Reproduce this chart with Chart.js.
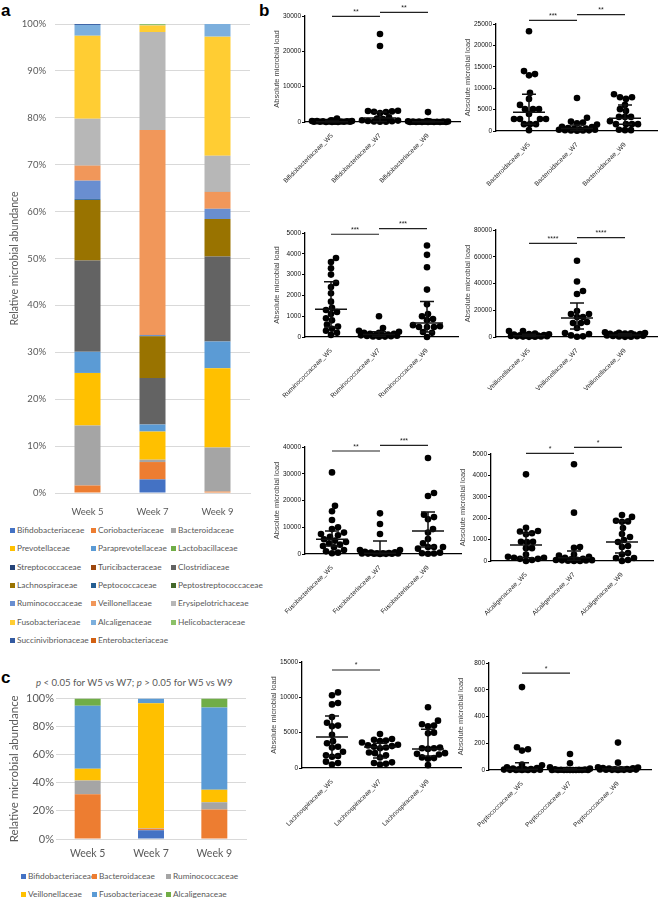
<!DOCTYPE html>
<html><head><meta charset="utf-8">
<script src="https://cdn.jsdelivr.net/npm/chart.js@4.4.1/dist/chart.umd.min.js"></script>
<style>
body{margin:0;width:658px;height:898px;background:#fff;position:relative;overflow:hidden;font-family:Lato,sans-serif;}
canvas{position:absolute;}
.lbl{position:absolute;font:bold 17px "Liberation Sans",Arial,sans-serif;color:#000;line-height:17px;}
.leg{position:absolute;font:8.3px Lato,sans-serif;color:#595959;white-space:nowrap;line-height:10px;}
.leg i{display:inline-block;width:5px;height:5px;margin-right:2px;vertical-align:0px;}
.sub{position:absolute;font:9.6px Lato,sans-serif;color:#595959;white-space:nowrap;}
</style></head><body>
<div class="lbl" style="left:1px;top:2px">a</div>
<div class="lbl" style="left:259px;top:2px">b</div>
<div class="lbl" style="left:1px;top:669px">c</div>
<div class="sub" style="left:36px;top:677px"><i>p</i> &lt; 0.05 for W5 vs W7; <i>p</i> &gt; 0.05 for W5 vs W9</div>
<script>
// ---------- DATA ----------
const weekLabels = ['Week 5','Week 7','Week 9'];

const panelAFamilies = ['Bifidobacteriaceae','Coriobacteriaceae','Bacteroidaceae','Prevotellaceae','Paraprevotellaceae','Lactobacillaceae','Streptococcaceae','Turicibacteraceae','Clostridiaceae','Lachnospiraceae','Peptococcaceae','Peptostreptococcaceae','Ruminococcaceae','Veillonellaceae','Erysipelotrichaceae','Fusobacteriaceae','Alcaligenaceae','Helicobacteraceae','Succinivibrionaceae','Enterobacteriaceae'];
const panelAColors = ['#4472C4','#ED7D31','#A5A5A5','#FFC000','#5B9BD5','#70AD47','#264478','#9E480E','#636363','#997300','#255E91','#43682B','#698ED0','#F1975A','#B7B7B7','#FFCD33','#7CAFDD','#8CC168','#335AA1','#D26012'];
const panelAValues = [
 [0,2.9,0],[1.6,3.7,0.3],[12.8,0.5,9.4],[11.2,6.0,16.9],[4.5,1.5,5.7],[0,0,0],[0,0,0],[0,0,0],
 [19.5,9.9,18.1],[12.9,8.9,8.0],[0.2,0.1,0],[0,0,0],[3.9,0.2,2.2],[3.2,43.7,3.6],[10.0,20.9,7.7],
 [17.7,1.4,25.4],[2.3,0.1,2.7],[0,0.2,0],[0.2,0,0],[0,0,0]
];

const panelCFamilies = ['Bifidobacteriaceae','Bacteroidaceae','Ruminococcaceae','Veillonellaceae','Fusobacteriaceae','Alcaligenaceae'];
const panelCColors = ['#4472C4','#ED7D31','#A5A5A5','#FFC000','#5B9BD5','#70AD47'];
const panelCValues = [[0,6.3,0],[31.9,1.0,21.0],[9.8,0.3,5.1],[8.4,89.1,8.9],[44.8,3.3,58.7],[5.1,0,6.3]];

// panel b: absolute loads per group (W5, W7, W9), summary [median, lower, upper], significance [from, to, level, stars]
const bifidoValues = [
 [0,0,0,50,50,100,100,100,150,150,200,200,250,300,300,400,500,1000],
 [24900,21500,3200,3100,3000,2900,2800,2500,1300,1000,800,500,400,300,200,150,100,50],
 [2800,300,200,200,150,100,100,100,50,50,50,0,0,0,0,0,0,0]];
const bifidoSummary = [[100,0,300],[1100,150,2800],[50,0,200]];
const bifidoSig = [[1,2,29900,'**'],[2,3,31050,'**']];

const bacteroValues = [
 [23300,14000,13300,13000,8900,7500,6100,5100,5100,5100,4000,2800,2800,2800,2800,1600,1600,1600,200],
 [7700,3100,2200,2000,1800,1500,1000,900,700,600,500,400,300,300,200,150,100,100,50],
 [8600,7900,7900,7500,6100,5100,4700,3300,3300,3300,2300,1600,1600,1600,1600,300,200,200]];
const bacteroSummary = [[4400,1600,8600],[600,100,1400],[3000,1600,6100]];
const bacteroSig = [[1,2,25860,'***'],[2,3,27170,'**']];

const ruminoValues = [
 [3800,3600,3300,3000,2600,2400,2100,1700,1400,1300,1200,1100,900,800,600,500,400,300,200,100],
 [1000,430,300,250,200,200,150,150,120,100,100,80,60,50,40,30,20,10],
 [4400,3950,3350,2280,1570,1100,1000,860,810,570,520,480,480,480,240,200,0]];
const ruminoSummary = [[1330,480,2660],[120,40,250],[670,240,1710]];
const ruminoSig = [[1,2,4940,'***'],[2,3,5210,'***']];

const veillonValues = [
 [4500,4400,2500,2200,2000,1800,1500,1300,1100,1000,900,800,600,500,400,300,200,100],
 [57000,41500,34400,32100,19400,17200,17200,14900,14900,11200,10500,10500,6700,2900,2200,1200,500,200],
 [3500,3200,3000,2800,2600,2400,2200,2000,1800,1600,1400,1200,1000,800,600,400,200,100]];
const veillonSummary = [[1000,400,2000],[14200,6000,25400],[1500,700,2400]];
const veillonSig = [[1,2,70060,'****'],[2,3,74240,'****']];

const fusoValues = [
 [30500,18000,16000,12700,10000,9300,8000,7500,7000,6400,5500,5000,4500,4000,3500,3000,2500,1500,1000,500,300],
 [15200,11200,7500,1500,1500,800,600,500,400,300,300,200,200,150,100,100,50,30],
 [35900,22800,21700,14700,13800,13000,9300,8000,5600,4000,2600,2600,2600,2000,500,300,200,100]];
const fusoSummary = [[5500,3000,8600],[300,100,4900],[8600,2600,15700]];
const fusoSig = [[1,2,38500,'**'],[2,3,40630,'***']];

const alcaliValues = [
 [4050,1550,1400,1380,1300,1250,900,900,880,600,600,300,200,150,150,100,100,50,0],
 [4520,2260,650,620,300,250,200,150,100,80,60,50,40,30,20,10,5,0],
 [2150,2060,1880,1850,1830,1540,1260,1120,980,890,700,650,370,300,140,140,50,0]];
const alcaliSummary = [[750,150,1300],[150,30,470],[890,370,1870]];
const alcaliSig = [[1,2,5030,'*'],[2,3,5310,'*']];

const lachnoValues = [
 [10700,10300,9200,9000,7200,6400,6000,5900,4700,3800,3500,3000,2900,2300,1800,1700,1600,900,700,500],
 [4800,4100,4000,3900,3800,3600,3300,3200,3100,3000,2900,2800,2200,2100,1800,1500,800,700,600,500],
 [8600,6700,6200,6000,5900,5000,4900,2900,2800,2800,2700,2100,2000,1900,1500,1400,1300,400]];
const lachnoSummary = [[4400,1700,7350],[2970,1400,3500],[2700,1700,5500]];
const lachnoSig = [[1,2,13870,'*']];

const peptoValues = [
 [620,170,155,145,40,35,20,15,10,8,5,5,3,2,1,0,0,0,0],
 [120,50,20,10,5,3,2,1,1,0,0,0,0,0,0,0,0],
 [205,55,20,18,15,12,10,8,6,5,4,3,2,2,1,1,0]];
const peptoSummary = [[5,0,55],[1,0,10],[8,2,20]];
const peptoSig = [[1,2,725,'*']];

// ---------- LAYOUT ----------
const CDN = {responsive:false, animation:false};
const lato = 'Lato, sans-serif';
const arial = '"Liberation Sans", Arial, sans-serif';

function addCanvas(left, top, w, h){
  const c = document.createElement('canvas');
  c.width = w; c.height = h;
  c.style.left = left+'px'; c.style.top = top+'px';
  c.style.width = w+'px'; c.style.height = h+'px';
  document.body.appendChild(c);
  return c;
}
function addLegend(names, colors, cols, rows){
  names.forEach((n,i)=>{
    const d = document.createElement('div');
    d.className = 'leg';
    d.style.left = cols[i%cols.length]+'px';
    d.style.top = (rows[Math.floor(i/cols.length)]-5)+'px';
    d.innerHTML = '<i style="background:'+colors[i]+'"></i>'+n;
    document.body.appendChild(d);
  });
}

// Panel a
(function(){
  const cv = addCanvas(0,0,258,520);
  new Chart(cv, {
    type:'bar',
    data:{labels:weekLabels, datasets: panelAFamilies.map((n,i)=>({label:n, data:panelAValues[i], backgroundColor:panelAColors[i], borderWidth:0, barPercentage:0.4, categoryPercentage:1}))},
    options:{...CDN, plugins:{legend:{display:false}, tooltip:{enabled:false}},
      layout:{padding:{top:24,right:8,left:0,bottom:0}},
      scales:{
        x:{stacked:true, grid:{display:false}, border:{color:'#D9D9D9'}, ticks:{font:{family:lato,size:9.5}, color:'#595959', padding:5}, afterFit(s){s.height=27;}},
        y:{stacked:true, min:0, max:100, ticks:{stepSize:10, callback:v=>v+'%', font:{family:lato,size:9.5}, color:'#595959', padding:9},
           grid:{color:'#D9D9D9', drawTicks:false}, border:{display:false},
           title:{display:true, text:'Relative microbial abundance', font:{family:lato,size:10.5}, color:'#595959', padding:{top:8,bottom:0}},
           afterFit(s){s.width=55;}}
      }}
  });
  addLegend(panelAFamilies, panelAColors, [10,91,171], [530,548,567,585,603,622,640]);
})();

// Panel c
(function(){
  const cv = addCanvas(0,690,252,168);
  new Chart(cv, {
    type:'bar',
    data:{labels:weekLabels, datasets: panelCFamilies.map((n,i)=>({label:n, data:panelCValues[i], backgroundColor:panelCColors[i], borderWidth:0, barPercentage:0.41, categoryPercentage:1}))},
    options:{...CDN, plugins:{legend:{display:false}, tooltip:{enabled:false}},
      layout:{padding:{top:6,right:6,left:0,bottom:0}},
      scales:{
        x:{stacked:true, grid:{display:false}, border:{color:'#D9D9D9'}, ticks:{font:{family:lato,size:10.5}, color:'#595959', padding:0}, afterFit(s){s.height=19;}},
        y:{stacked:true, min:0, max:100, ticks:{stepSize:10, callback:v=>v+'%', font:{family:lato,size:11}, color:'#595959', padding:2},
           grid:{color:'#D9D9D9', drawTicks:false}, border:{display:false},
           title:{display:true, text:'Relative microbial abundance', font:{family:lato,size:11.5}, color:'#595959', padding:{top:7,bottom:0}},
           afterFit(s){s.width=56;}}
      }}
  });
  addLegend(panelCFamilies, panelCColors, [21,92,166], [876,894]);
})();

// Panel b
function swarm(vals, pxPerVal, D, maxOff){
  const idx = vals.map((v,i)=>i).sort((a,b)=>vals[a]-vals[b]);
  const placed = []; const off = new Array(vals.length).fill(0);
  for(const i of idx){
    const py = vals[i]*pxPerVal;
    let best = 0, bestD = -1;
    for(let k=0;k<=2*maxOff;k++){
      const dx = (k%2) ? (k+1)/2 : -k/2;
      let md = Infinity;
      for(const p of placed){ const d = Math.hypot(p.x-dx, p.y-py); if(d<md) md=d; }
      if(md>=D){ best=dx; bestD=md; break; }
      if(md>bestD){ bestD=md; best=dx; }
    }
    off[i] = best; placed.push({x:best, y:py});
  }
  return off;
}

const sigPlugin = {
  id:'sig',
  afterDatasetsDraw(chart, args, opts){
    const ctx = chart.ctx, xs = chart.scales.x, ys = chart.scales.y;
    ctx.save();
    ctx.fillStyle = '#222';
    ctx.font = '7px ' + arial;
    ctx.textAlign = 'center'; ctx.textBaseline = 'alphabetic';
    (opts.items||[]).forEach(([a,b,y,t])=>{
      ctx.fillText(t, (xs.getPixelForValue(a)+xs.getPixelForValue(b))/2, ys.getPixelForValue(y)-2.5);
    });
    ctx.restore();
  }
};

const bLayout = [
 {ax:305, top:16, bot:122, right:460, off:27},
 {ax:496, top:24, bot:131, right:657, off:33},
 {ax:305, top:233, bot:337, right:458, off:26},
 {ax:496, top:230, bot:337, right:657, off:33},
 {ax:305, top:447, bot:554, right:461, off:27},
 {ax:491, top:454, bot:561, right:653, off:35},
 {ax:302, top:662, bot:768, right:461, off:30},
 {ax:489, top:663, bot:770, right:651, off:33}
];

function makeScatter(i, family, values, summary, maxV, step, sig){
  const L = bLayout[i];
  const left = L.ax-60, top = L.top-30, W = L.right-left+4, H = L.bot-top+62;
  const cv = addCanvas(left, top, W, H);
  const pxPerVal = (L.bot-L.top)/maxV;
  const unit = 48;
  const xmin = 1 - L.off/unit, xmax = xmin + (L.right-L.ax)/unit;
  const pts = [];
  values.forEach((vals,g)=>{
    const off = swarm(vals, pxPerVal, 6, 20);
    vals.forEach((v,k)=>pts.push({x:g+1+off[k]/unit, y:v}));
  });
  const hw = 16/unit, cw = 7/unit;
  const lines = [];
  summary.forEach(([m,lo,hi],g)=>{
    const c = g+1;
    lines.push({x:c-hw,y:m},{x:c+hw,y:m},{x:c,y:null},
               {x:c,y:lo},{x:c,y:hi},{x:c,y:null},
               {x:c-cw,y:lo},{x:c+cw,y:lo},{x:c,y:null},
               {x:c-cw,y:hi},{x:c+cw,y:hi},{x:c,y:null});
  });
  const sigLines = [];
  sig.forEach(([a,b,y])=>{ sigLines.push({x:a,y:y},{x:b,y:y},{x:b,y:null}); });
  const names = weekLabels.map(w=>family+'_W'+w.slice(-1));
  new Chart(cv, {
    type:'scatter',
    data:{datasets:[
      {data:lines, showLine:true, borderColor:'#111', borderWidth:1.5, pointRadius:0, spanGaps:false, clip:false, order:0},
      {data:pts, pointRadius:3.3, pointBackgroundColor:'#000', pointBorderWidth:0, showLine:false, clip:false, order:1},
      {data:sigLines, showLine:true, borderColor:'#222', borderWidth:1.2, pointRadius:0, spanGaps:false, clip:false, order:2}
    ]},
    options:{...CDN,
      plugins:{legend:{display:false}, tooltip:{enabled:false}, sig:{items:sig}},
      layout:{padding:{top:30,right:4,left:0,bottom:0}},
      scales:{
        x:{type:'linear', min:xmin, max:xmax,
           afterBuildTicks(s){ s.ticks=[{value:1},{value:2},{value:3}]; },
           ticks:{autoSkip:false, minRotation:45, maxRotation:45, padding:2, font:{family:arial,size:6.5}, color:'#222',
                  callback:(v)=>names[Math.round(v)-1]||''},
           grid:{display:false}, border:{display:true, color:'#000', width:1.3},
           afterFit(s){ s.height=62; }},
        y:{min:0, max:maxV, ticks:{stepSize:step, callback:v=>String(v), font:{family:arial,size:6.5}, color:'#111', padding:1},
           grid:{display:true, drawOnChartArea:false, drawTicks:true, tickLength:3, color:'#000', lineWidth:1},
           border:{display:true, color:'#000', width:1.3},
           title:{display:true, text:'Absolute microbial load', font:{family:arial,size:7.5}, color:'#444', padding:{top:27,bottom:0}},
           afterFit(s){ s.width=60; }}
      }},
    plugins:[sigPlugin]
  });
}

makeScatter(0,'Bifidobacteriaceae', bifidoValues, bifidoSummary, 30000, 10000, bifidoSig);
makeScatter(1,'Bacteroidaceae', bacteroValues, bacteroSummary, 25000, 5000, bacteroSig);
makeScatter(2,'Ruminococcaceae', ruminoValues, ruminoSummary, 5000, 1000, ruminoSig);
makeScatter(3,'Veillonellaceae', veillonValues, veillonSummary, 80000, 20000, veillonSig);
makeScatter(4,'Fusobacteriaceae', fusoValues, fusoSummary, 40000, 10000, fusoSig);
makeScatter(5,'Alcaligenaceae', alcaliValues, alcaliSummary, 5000, 1000, alcaliSig);
makeScatter(6,'Lachnospiraceae', lachnoValues, lachnoSummary, 15000, 5000, lachnoSig);
makeScatter(7,'Peptococcaceae', peptoValues, peptoSummary, 800, 200, peptoSig);
</script>
</body></html>
